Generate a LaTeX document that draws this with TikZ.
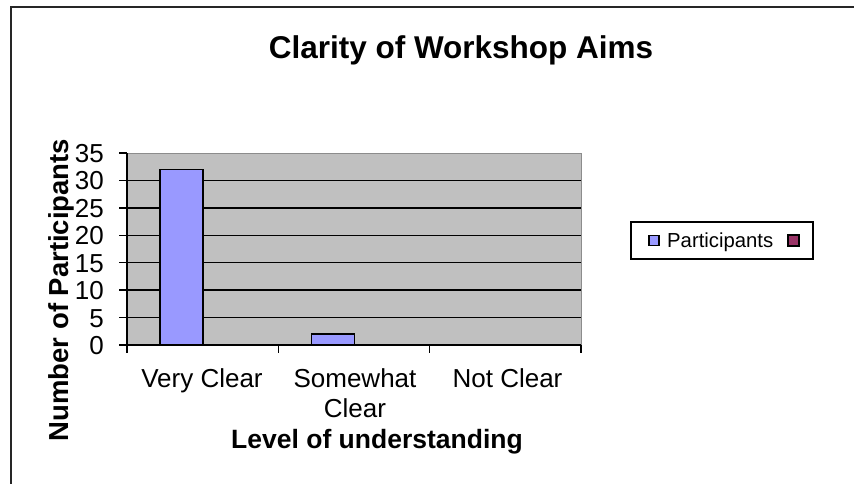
\documentclass[tikz,border=0pt]{standalone}
\usepackage{fontspec}
\setmainfont{Liberation Sans}
\begin{document}
\begin{tikzpicture}[x=1pt,y=-1pt,
  lbl/.style={inner sep=0pt,font=\fontsize{26}{30}\selectfont},
  ttl/.style={inner sep=0pt,font=\fontsize{26.5}{30}\selectfont\bfseries},
  bar/.style={draw=black,line width=1.4pt,fill=barblue},
  grid/.style={line width=1.4pt,black},
  axis/.style={line width=2pt,black},
  tick/.style={line width=1.4pt,black}]
\definecolor{barblue}{HTML}{9999FF}
\definecolor{barred}{HTML}{993366}
\definecolor{plotgray}{HTML}{C0C0C0}
\useasboundingbox (0,0) rectangle (854,483);
\begin{scope}
\clip (0,0) rectangle (854,483);
\draw[line width=2pt,draw=black!85] (11,7) rectangle (880,510);
\end{scope}
% title
\node[inner sep=0pt,anchor=base,font=\fontsize{31.5}{36}\selectfont\bfseries] (title) at (461,58) {Clarity of Workshop Aims};
% plot area
\fill[plotgray] (127,153) rectangle (581,345);
\draw[line width=1pt,draw=black!45] (127,153) -- (581,153) -- (581,345);
\foreach \v in {5,10,...,30} {
  \draw[grid] (127,{345-\v*192/35}) -- (581,{345-\v*192/35});
}
% bars
\draw[bar] (160,345) rectangle (203,{345-32*192/35});
\draw[bar] (311.3,345) rectangle (354.3,{345-2*192/35});
% axes
\draw[axis] (127,153) -- (127,346);
\draw[axis] (126,345) -- (581,345);
\foreach \v in {0,5,...,35} {
  \draw[tick] (119,{345-\v*192/35}) -- (127,{345-\v*192/35});
  \node[lbl,anchor=base east] (y\v) at (104,{345-\v*192/35+9.5}) {\v};
}
\foreach \x in {127,278.3,429.7,581} {
  \draw[tick] (\x,345) -- (\x,353);
}
% category labels
\node[lbl,anchor=base] (c1) at (202,387) {Very Clear};
\node[lbl,anchor=base] (c2a) at (355,387) {Somewhat};
\node[lbl,anchor=base] (c2b) at (355,417) {Clear};
\node[lbl,anchor=base] (c3) at (507.5,387) {Not Clear};
% axis titles
\node[ttl,anchor=base] (xt) at (377,448) {Level of understanding};
\node[inner sep=0pt,anchor=base,rotate=90,font=\fontsize{27.5}{30}\selectfont\bfseries] (yt) at (68,290) {Number of Participants};
% legend
\node[draw=black,line width=1.4pt,minimum width=182pt,minimum height=37pt,inner sep=0pt,fill=white] (legend) at (722,240.5) {};
\node[draw=black,line width=1.2pt,fill=barblue,minimum size=10pt,inner sep=0pt] (lk1) at (654,240.5) {};
\node[inner sep=0pt,anchor=base west,font=\fontsize{20.3}{24}\selectfont] (lt1) at (667,247.5) {Participants};
\node[draw=black,line width=1.2pt,fill=barred,minimum size=11pt,inner sep=0pt] (lk2) at (793.5,240.5) {};
\end{tikzpicture}
\end{document}
